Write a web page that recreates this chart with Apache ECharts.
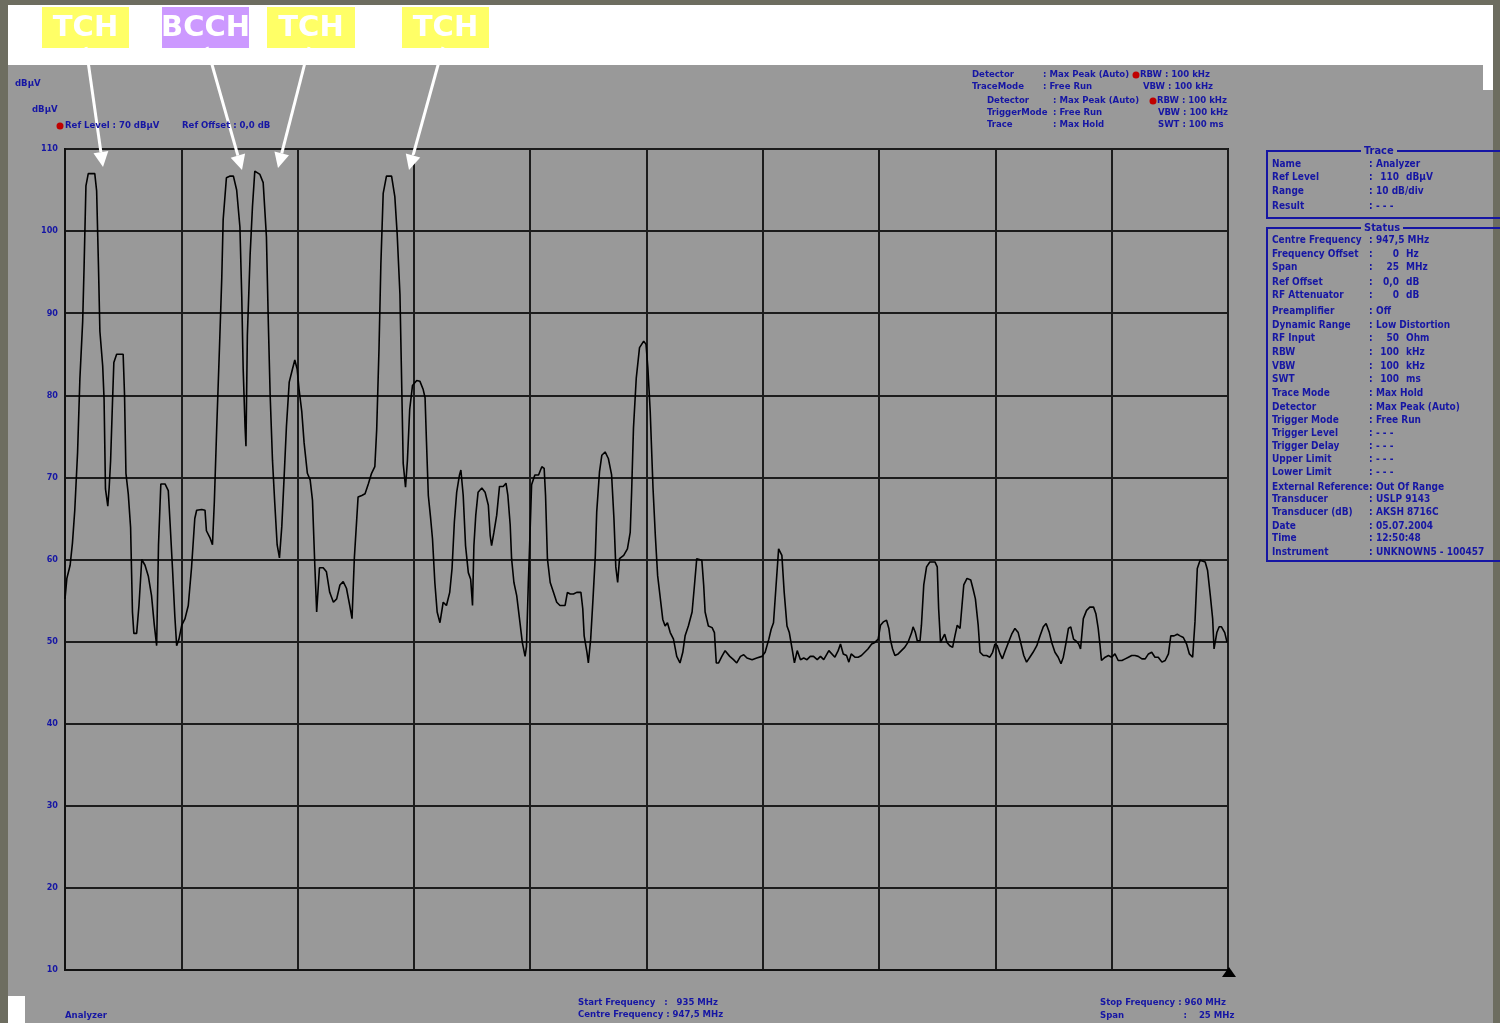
<!DOCTYPE html>
<html><head><meta charset="utf-8">
<script src="https://cdn.jsdelivr.net/npm/echarts@6/dist/echarts.min.js"></script>
<style>
html,body{margin:0;padding:0;width:1500px;height:1023px;overflow:hidden;background:#6d6d60;}
.bg{position:absolute;}
#chart{position:absolute;left:0;top:0;width:1500px;height:1023px;}
</style></head>
<body>
<div class="bg" style="left:8px;top:5px;width:1485px;height:60px;background:#ffffff"></div>
<div class="bg" style="left:8px;top:65px;width:1485px;height:958px;background:#999999"></div>
<div class="bg" style="left:1483px;top:65px;width:10px;height:25px;background:#ffffff"></div>
<div class="bg" style="left:8px;top:996px;width:17px;height:27px;background:#ffffff"></div>
<div id="chart"></div>
<script>
// ---------------- DATA ----------------
const freqMHz = [
935.00,935.04,935.11,935.16,935.21,935.27,935.32,935.38,935.41,935.45,
935.50,935.64,935.68,935.72,935.75,935.81,935.84,935.87,935.92,935.95,
935.98,936.02,936.05,936.11,936.25,936.28,936.31,936.36,936.41,936.45,
936.48,936.54,936.59,936.65,936.72,936.79,936.86,936.92,936.97,937.01,
937.06,937.15,937.22,937.26,937.31,937.36,937.40,937.45,937.51,937.58,
937.65,937.72,937.79,937.83,937.94,938.01,938.04,938.12,938.17,938.21,
938.26,938.32,938.37,938.40,938.47,938.55,938.62,938.69,938.76,938.80,
938.83,938.87,938.89,938.92,938.98,939.03,939.08,939.19,939.26,939.33,
939.37,939.41,939.46,939.51,939.56,939.61,939.66,939.71,939.76,939.82,
939.89,939.94,939.99,940.03,940.09,940.14,940.21,940.27,940.32,940.37,
940.41,940.47,940.55,940.62,940.69,940.77,940.84,940.91,940.98,941.05,
941.12,941.17,941.22,941.27,941.30,941.38,941.45,941.52,941.59,941.66,
941.70,941.75,941.79,941.84,941.91,942.02,942.09,942.14,942.20,942.23,
942.27,942.32,942.36,942.41,942.47,942.56,
942.63,942.70,942.74,942.77,942.81,942.86,942.90,942.95,943.00,943.06,
943.10,943.13,943.20,943.27,943.32,943.37,943.42,943.48,943.51,943.56,
943.61,943.67,943.72,943.76,943.79,943.83,943.88,943.96,944.03,944.10,
944.14,944.17,944.22,944.28,944.34,944.42,944.48,944.52,944.57,944.60,
944.65,944.71,944.78,944.83,944.89,944.92,944.96,945.00,945.03,945.10,
945.18,945.25,945.30,945.33,945.37,945.43,945.50,945.57,945.64,945.75,
945.80,945.86,945.93,946.00,946.09,946.13,946.16,946.22,946.25,946.30,
946.35,946.40,946.43,946.49,946.54,946.61,946.68,946.75,946.80,946.84,
946.88,946.92,947.01,947.09,947.15,947.18,947.22,947.28,947.35,947.44,
947.49,947.53,947.58,947.64,947.69,947.74,947.79,947.85,947.90,947.95,
948.01,948.08,948.15,948.22,948.28,948.33,948.40,948.48,948.53,948.58,
948.69,948.73,948.76,948.83,948.91,948.96,949.00,949.05,949.12,949.19,
949.29,949.37,949.44,949.52,949.59,949.66,949.77,949.87,949.98,950.05,
950.13,950.18,950.23,950.28,950.34,950.38,950.41,950.46,950.52,950.57,
950.63,950.68,950.74,950.81,950.88,950.95,951.02,951.09,951.17,951.24,
951.31,951.42,
951.55,951.62,951.67,951.73,951.80,951.85,951.90,951.98,952.05,952.12,
952.19,952.26,952.34,952.41,952.48,952.53,952.59,952.66,952.71,952.74,
952.79,952.84,952.91,952.98,953.05,953.12,953.20,953.23,953.28,953.32,
953.38,953.41,953.46,953.52,953.59,953.70,953.75,953.78,953.82,953.86,
953.91,953.96,954.02,954.08,954.13,954.18,954.24,954.27,954.32,954.39,
954.47,954.52,954.57,954.63,954.67,954.74,954.81,954.88,954.94,954.99,
955.04,955.10,955.15,955.20,955.28,955.35,955.42,955.49,955.56,955.61,
955.67,955.74,955.81,955.89,955.96,956.03,956.09,956.16,956.21,956.28,
956.35,956.41,956.46,956.52,956.57,956.62,956.68,956.73,956.79,956.83,
956.89,956.96,957.03,957.11,957.16,957.21,957.25,957.28,957.36,957.43,
957.50,957.57,957.64,957.72,957.79,957.86,957.93,958.00,958.07,958.15,
958.22,958.29,958.36,958.43,958.50,958.58,958.65,958.72,958.77,958.84,
958.91,958.97,959.04,959.11,959.17,959.24,959.29,959.34,959.40,959.51,
959.56,959.62,959.67,959.70,959.76,959.81,959.86,959.93,959.98
];
const levelDbuV = [
55.2,57.7,59.3,62,66,73,82,89,95.6,105.5,
107,107,104.9,95.6,87.8,83.6,79.5,68.6,66.5,68.8,
72,79,84,85,85,80,70.5,68,63.9,53.6,
51,51,54.4,60,59.3,58,55.6,52,49.5,61.8,
69.2,69.2,68.4,64.3,59,53.2,49.5,50.3,52,52.8,
54.4,59,65,66,66.1,66,63.5,62.6,61.8,67,
75.8,85.7,94.3,101.4,106.5,106.7,106.7,105,100.5,91.9,
83.2,76.2,73.8,87.3,97.2,103,107.3,106.9,105.9,99.3,
89,80,72.1,66.8,61.8,60.2,64,70,76.2,81.6,
83.2,84.3,83.2,80.8,78,74.2,70.5,69.7,67.2,59.3,
53.6,59,59,58.5,56,54.8,55.2,56.9,57.3,56.5,
54.4,52.8,60.2,64.8,67.6,67.8,68,69.2,70.5,71.3,
75.8,85.7,96,104.6,106.7,106.7,104.2,99.7,92.3,83.6,
71.7,68.8,72,78.3,81.2,81.8,
81.7,80.7,79.7,74.4,67.8,65,62.5,57.2,53.6,52.3,
52.5,54.8,54.4,56,58.9,64.6,68.2,70.3,70.9,67.8,
61.7,58.4,57.6,54.4,61.7,65.4,68.2,68.7,68.2,66.6,
62.9,61.7,63.3,65.4,68.9,68.9,69.3,67.8,64.2,60.1,
57.2,55.6,52.3,49.9,48.2,49.4,57.2,63.8,69.1,70.3,
70.3,71.3,71.1,67.8,60.1,57.2,56,54.8,54.4,54.4,
56,55.8,55.8,56,56,54,50.7,48.7,47.4,50.3,
55.2,60.5,65.8,70.7,72.7,73.1,72.3,70.3,65,59.1,
57.2,60.1,60.5,61.3,63.3,68.2,76,82.1,85.8,86.6,
86.2,83.3,78,68.7,62.9,58,55.6,52.7,51.9,52.3,
51.1,50.3,48.2,47.4,48.7,50.7,51.9,53.6,56.8,60.1,
59.9,56.8,53.6,51.9,51.7,51.1,47.4,47.4,48.2,48.9,
48.2,47.8,47.4,48.2,48.4,48,47.8,48,48.2,48.7,
50.3,51.5,52.3,56.4,61.3,61.5,60.5,56,51.9,51.1,
49.1,47.4,48.9,47.8,48,47.8,48.2,48.2,47.8,48.2,
47.8,48.9,
48.1,48.9,49.7,48.5,48.3,47.5,48.5,48.1,48.1,48.3,
48.7,49.1,49.7,49.9,50.3,52,52.4,52.6,51.6,50.3,
49.1,48.3,48.5,48.9,49.3,49.9,51.1,51.8,51.1,50.1,
50.1,52,56.9,59.1,59.7,59.7,59.1,54,49.9,49.9,
50.9,49.9,49.5,49.3,50.7,52,51.6,53.6,56.9,57.7,
57.5,56.4,55.2,52,48.7,48.3,48.3,48.1,48.7,49.7,
49.5,48.5,47.9,48.7,49.9,50.9,51.6,51.1,49.5,48.3,
47.5,48.1,48.7,49.5,50.7,51.8,52.2,51.1,49.9,48.7,
48.1,47.3,48.1,49.9,51.6,51.8,50.3,50.1,49.7,49.1,
52.8,53.8,54.2,54.2,53.4,51.6,49.5,47.7,48.1,48.3,
48.1,48.5,47.7,47.7,47.9,48.1,48.3,48.3,48.2,47.9,
47.9,48.5,48.7,48.1,48.1,47.5,47.7,48.5,50.7,50.7,
50.9,50.7,50.5,49.7,48.5,48.1,52.4,58.9,59.9,59.7,
58.7,55.6,52.8,49.1,51.1,51.8,51.8,51.1,49.9
];
const startFreq = 935, stopFreq = 960, freqStep = 2.5;
const levelMin = 10, levelMax = 110, levelStep = 10;

const channelLabels = ['TCH', 'BCCH', 'TCH', 'TCH'];
const channelKinds  = ['tch', 'bcch', 'tch', 'tch'];

const headerLines = [
  ['Detector', ': Max Peak (Auto)', 'RBW : 100 kHz'],
  ['TraceMode', ': Free Run', 'VBW : 100 kHz'],
  ['Detector', ': Max Peak (Auto)', 'RBW : 100 kHz'],
  ['TriggerMode', ': Free Run', 'VBW : 100 kHz'],
  ['Trace', ': Max Hold', 'SWT : 100 ms']
];
const traceLabels = ['Name', 'Ref Level', 'Range', 'Result'];
const traceValues = ['Analyzer', '110|dBµV', '10 dB/div', '- - -'];
const statusLabels = ['Centre Frequency','Frequency Offset','Span','Ref Offset','RF Attenuator',
  'Preamplifier','Dynamic Range','RF Input','RBW','VBW','SWT','Trace Mode','Detector',
  'Trigger Mode','Trigger Level','Trigger Delay','Upper Limit','Lower Limit',
  'External Reference','Transducer','Transducer (dB)','Date','Time','Instrument'];
const statusValues = ['947,5 MHz','0|Hz','25|MHz','0,0|dB','0|dB',
  'Off','Low Distortion','50|Ohm','100|kHz','100|kHz','100|ms','Max Hold','Max Peak (Auto)',
  'Free Run','- - -','- - -','- - -','- - -',
  'Out Of Range','USLP 9143','AKSH 8716C','05.07.2004','12:50:48','UNKNOWN5 - 100457'];

// ---------------- LAYOUT / STYLE ----------------
const BLUE = '#1616a4';
const FAM = '"Liberation Sans Narrow","DejaVu Sans Condensed",sans-serif';
const FONT = 'bold 10px ' + FAM;
const FONT_S = 'bold 9.5px ' + FAM;
const boxX = [42, 162, 267, 402], boxW = [87, 87, 88, 87];
const boxColor = {tch: '#ffff66', bcch: '#cc99ff'};
const arrowFrom = [[86,47],[207,47],[309,47],[443,47]];
const arrowTo = [[103,167],[242,170],[278,168],[409,170]];
const headerY = [75, 87, 101, 113, 125];
const headerX = [[972,1043,1140],[972,1043,1143],[987,1053,1157],[987,1053,1158],[987,1053,1158]];
const traceRowY = [164, 177, 191, 206];
const statusRowY = [240,254,267,282,295,311,325,338,352,366,379,393,407,420,433,446,459,472,487,499,512,526,538,552];

function txt(x, y, s, o) {
  return {type:'text', x:x, y:y, z:120, silent:true,
    style:Object.assign({text:s, fill:BLUE, font:FONT, textAlign:'left', textVerticalAlign:'middle'}, o||{})};
}
const g = [];
// channel boxes + arrows
channelLabels.forEach((lab, i) => {
  g.push({type:'rect', z:100, silent:true, shape:{x:boxX[i], y:7, width:boxW[i], height:41},
          style:{fill:boxColor[channelKinds[i]]}});
  g.push(txt(boxX[i] + boxW[i]/2, 28, lab, {fill:'#ffffff', font:'bold 29px "DejaVu Sans",sans-serif', textAlign:'center'}));
  const [x1,y1] = arrowFrom[i], [x2,y2] = arrowTo[i];
  const dx = x2-x1, dy = y2-y1, L = Math.hypot(dx,dy), ux = dx/L, uy = dy/L;
  const hl = 15, hw = 7.5;
  const bx = x2 - ux*hl, by = y2 - uy*hl;
  g.push({type:'line', z:110, silent:true, shape:{x1:x1,y1:y1,x2:bx,y2:by}, style:{stroke:'#ffffff', lineWidth:3}});
  g.push({type:'polygon', z:110, silent:true, shape:{points:[[x2,y2],[bx-uy*hw,by+ux*hw],[bx+uy*hw,by-ux*hw]]},
          style:{fill:'#ffffff'}});
});
// left labels
g.push(txt(15, 84, 'dBµV', {font:FONT_S}));
g.push(txt(32, 110, 'dBµV', {font:FONT_S}));
g.push({type:'circle', z:100, silent:true, shape:{cx:60, cy:126, r:3.5}, style:{fill:'#c00000'}});
g.push(txt(65, 126, 'Ref Level : 70 dBµV', {font:FONT_S}));
g.push(txt(182, 126, 'Ref Offset : 0,0 dB', {font:FONT_S}));
// header
headerLines.forEach((row, i) => {
  g.push(txt(headerX[i][0], headerY[i], row[0], {font:FONT_S}));
  g.push(txt(headerX[i][1], headerY[i], row[1], {font:FONT_S}));
  g.push(txt(headerX[i][2], headerY[i], row[2], {font:FONT_S}));
  if (row[2].indexOf('RBW') === 0) {
    g.push({type:'circle', z:100, silent:true, shape:{cx:headerX[i][2]-4, cy:headerY[i], r:3.5}, style:{fill:'#c00000'}});
  }
});
// right panel boxes
function panelBox(y1, y2, title, tx) {
  g.push({type:'polyline', z:100, silent:true,
    shape:{points:[[1500,y1],[1267,y1],[1267,y2],[1500,y2]]}, style:{stroke:BLUE, lineWidth:2, fill:null}});
  g.push({type:'rect', z:101, silent:true, shape:{x:tx-3, y:y1-6, width:title.length*6+6, height:12}, style:{fill:'#999999'}});
  g.push(txt(tx, y1, title, {font:'bold 11px ' + FAM}));
}
panelBox(151, 218, 'Trace', 1364);
panelBox(228, 561, 'Status', 1364);
function panelRow(y, label, value) {
  g.push(txt(1272, y, label));
  g.push(txt(1369, y, ':'));
  if (value.indexOf('|') >= 0) {
    const p = value.split('|');
    g.push(txt(1399, y, p[0], {textAlign:'right'}));
    g.push(txt(1406, y, p[1]));
  } else {
    g.push(txt(1376, y, value));
  }
}
traceLabels.forEach((l, i) => panelRow(traceRowY[i], l, traceValues[i]));
statusLabels.forEach((l, i) => panelRow(statusRowY[i], l, statusValues[i]));
// bottom
g.push(txt(65, 1016, 'Analyzer', {font:FONT_S}));
g.push(txt(578, 1003, 'Start Frequency   :   ' + startFreq + ' MHz', {font:FONT_S}));
g.push(txt(578, 1015, 'Centre Frequency : 947,5 MHz', {font:FONT_S}));
g.push(txt(1100, 1003, 'Stop Frequency : ' + stopFreq + ' MHz', {font:FONT_S}));
g.push(txt(1100, 1016, 'Span                    :    25 MHz', {font:FONT_S}));
g.push({type:'polygon', z:100, silent:true, shape:{points:[[1229,967],[1222,977],[1236,977]]}, style:{fill:'#000'}});

const chart = echarts.init(document.getElementById('chart'), null, {renderer:'canvas'});
chart.setOption({
  backgroundColor: 'transparent',
  animation: false,
  grid: {left:65, right:272, top:149, bottom:53, show:true, borderColor:'#111', borderWidth:2, backgroundColor:'transparent'},
  xAxis: {type:'value', min:startFreq, max:stopFreq, interval:freqStep,
    axisLabel:{show:false}, axisTick:{show:false},
    axisLine:{show:true, lineStyle:{color:'#111', width:2}},
    splitLine:{show:true, lineStyle:{color:'#1c1c1c', width:2}}},
  yAxis: {type:'value', min:levelMin, max:levelMax, interval:levelStep,
    axisLabel:{color:BLUE, fontSize:9, fontWeight:'bold', margin:7, fontFamily:FAM},
    axisTick:{show:false},
    axisLine:{show:true, lineStyle:{color:'#111', width:2}},
    splitLine:{show:true, lineStyle:{color:'#1c1c1c', width:2}}},
  series: [{type:'line', data: freqMHz.map((f, i) => [f, levelDbuV[i]]),
    showSymbol:false, symbol:'none', lineStyle:{color:'#000', width:1.6}, z:5}],
  graphic: {elements: g}
});
</script>
</body></html>
